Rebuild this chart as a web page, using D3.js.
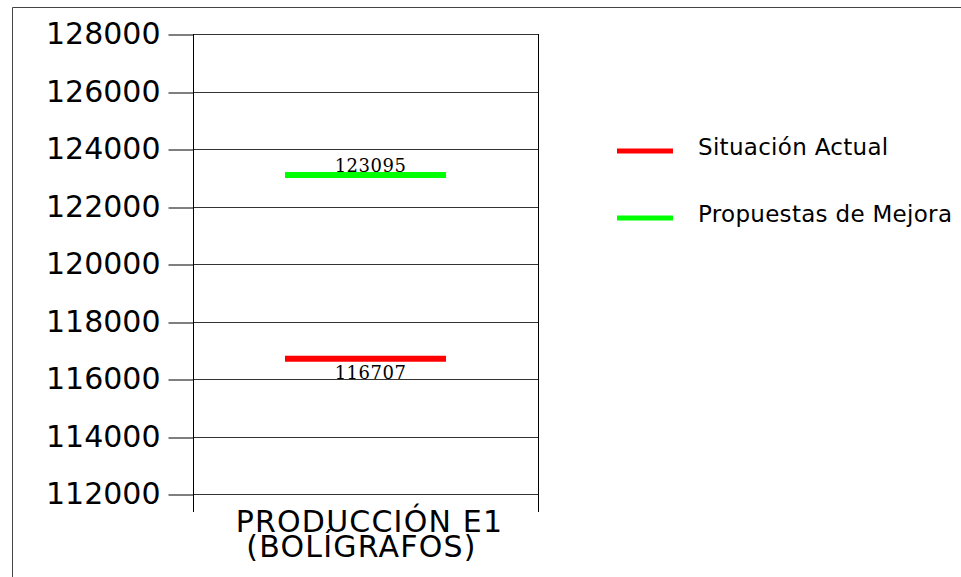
<!DOCTYPE html>
<html>
<head>
<meta charset="utf-8">
<script src="https://cdn.jsdelivr.net/npm/d3@7"></script>
<style>
  body { margin: 0; background: #fff; }
  svg { display: block; }
</style>
</head>
<body>
<svg id="chart" width="961" height="577"></svg>
<script>
// chart data
var categories = ["PRODUCCIÓN E1|(BOLÍGRAFOS)"];
var seriesNames = ["Situación Actual", "Propuestas de Mejora"];
var seriesValues = [116707, 123095];
var seriesColors = ["#ff0000", "#00ff00"];
var yTicks = [112000, 114000, 116000, 118000, 120000, 122000, 124000, 126000, 128000];

var svg = d3.select('#chart');

// frame
svg.append('path')
    .attr('d', 'M12.5,577 V7.5 H961')
    .attr('fill', 'none')
    .attr('stroke', '#444')
    .attr('stroke-width', 1);

var pLeft = 193, pRight = 538, pTop = 34, pBottom = 494;

var y = d3.scaleLinear().domain([112000, 128000]).range([pBottom, pTop]);
var x = d3.scaleBand().domain(categories).range([pLeft, pRight]).paddingInner(0).paddingOuter(0.571);

// grid lines
svg.append('g').selectAll('line').data(yTicks).enter().append('line')
    .attr('x1', pLeft).attr('x2', pRight)
    .attr('y1', function (d) { return Math.round(y(d)) + 0.5; })
    .attr('y2', function (d) { return Math.round(y(d)) + 0.5; })
    .attr('stroke', '#333').attr('stroke-width', 1);

// y axis
var yAxis = d3.axisLeft(y).tickValues(yTicks).tickFormat(d3.format('d')).tickSize(25).tickPadding(8);
var ga = svg.append('g').attr('transform', 'translate(' + (pLeft + 0.5) + ',0)').call(yAxis);
ga.select('.domain').remove();
ga.selectAll('.tick line').attr('stroke', '#000')
    .attr('transform', function (d) { return 'translate(0,' + (Math.round(y(d)) + 0.5 - y(d)) + ')'; });
ga.selectAll('text').attr('font-family', 'DejaVu Sans').attr('font-size', 30).attr('fill', '#000');

// vertical plot edges, extended below the bottom grid line
[pLeft, pRight].forEach(function (px) {
    svg.append('line')
        .attr('x1', px + 0.5).attr('x2', px + 0.5)
        .attr('y1', pTop).attr('y2', 512)
        .attr('stroke', '#000').attr('stroke-width', 1);
});

// category label (two lines, tight leading)
categories.forEach(function (c) {
    var cx = x(c) + x.bandwidth() / 2;
    var parts = c.split('|');
    var shifts = [4, -4];
    parts.forEach(function (part, i) {
        svg.append('text')
            .attr('x', cx + shifts[i])
            .attr('y', 532 + i * 25)
            .attr('text-anchor', 'middle')
            .attr('font-family', 'DejaVu Sans')
            .attr('font-size', 30)
            .attr('letter-spacing', 1.2)
            .attr('fill', '#000')
            .text(part);
    });
});

// value lines
var maxV = d3.max(seriesValues);
seriesValues.forEach(function (v, i) {
    var c = categories[0];
    svg.append('line')
        .attr('x1', x(c)).attr('x2', x(c) + x.bandwidth())
        .attr('y1', y(v)).attr('y2', y(v))
        .attr('stroke', seriesColors[i]).attr('stroke-width', 6);
    svg.append('text')
        .attr('x', x(c) + x.bandwidth() / 2 + 5)
        .attr('y', v === maxV ? y(v) - 3 : y(v) + 20)
        .attr('text-anchor', 'middle')
        .attr('font-family', 'DejaVu Serif')
        .attr('font-size', 18)
        .attr('letter-spacing', 0.5)
        .attr('fill', '#000')
        .text(v);
});

// legend
var legend = svg.append('g').selectAll('g').data(seriesNames).enter().append('g')
    .attr('transform', function (d, i) { return 'translate(617,' + (151 + i * 67) + ')'; });
legend.append('line')
    .attr('x1', 0).attr('x2', 56)
    .attr('stroke', function (d, i) { return seriesColors[i]; })
    .attr('stroke-width', 5);
legend.append('text')
    .attr('x', 81).attr('y', 4)
    .attr('font-family', 'DejaVu Sans')
    .attr('font-size', 23)
    .attr('letter-spacing', 0.3)
    .attr('fill', '#000')
    .text(function (d) { return d; });
</script>
</body>
</html>
